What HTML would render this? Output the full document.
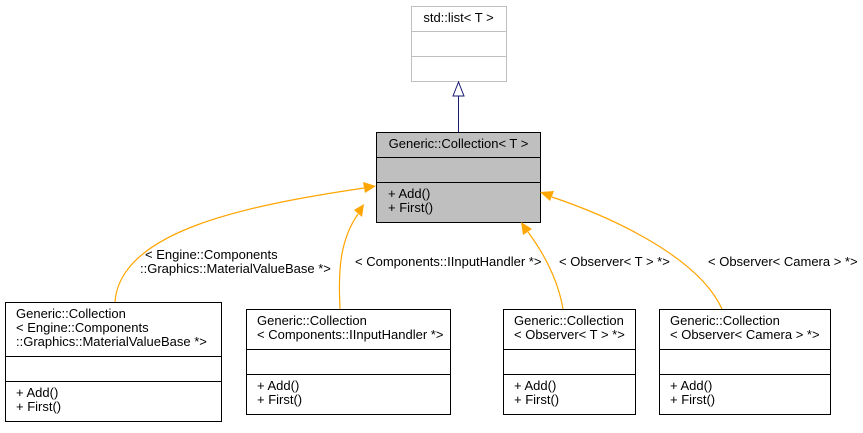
<!DOCTYPE html>
<html><head><style>
body{margin:0;background:#fff;width:863px;height:428px;overflow:hidden;font-family:"Liberation Sans",Arial,sans-serif;}
svg text{font-family:"Liberation Sans",Arial,sans-serif;font-size:13px;fill:#000;}
</style></head><body>
<svg width="863" height="428" xmlns="http://www.w3.org/2000/svg">
<g fill="none" stroke="#bfbfbf" stroke-width="1">
<rect x="411.5" y="6.5" width="95" height="75" fill="#fff"/>
<line x1="411.5" y1="31.5" x2="506.5" y2="31.5"/>
<line x1="411.5" y1="56.5" x2="506.5" y2="56.5"/>
</g>
<text x="458.5" y="22" text-anchor="middle">std::list&lt; T &gt;</text>
<line x1="458.5" y1="132" x2="458.5" y2="96" stroke="#191970"/>
<polygon points="458.5,82 453,96 464,96" fill="#fff" stroke="#191970"/>
<rect x="376.5" y="132.5" width="164" height="90" fill="#bfbfbf" stroke="#000"/>
<line x1="376.5" y1="157.5" x2="540.5" y2="157.5" stroke="#000"/>
<line x1="376.5" y1="182.5" x2="540.5" y2="182.5" stroke="#000"/>
<text x="458.5" y="148" text-anchor="middle">Generic::Collection&lt; T &gt;</text>
<text x="388" y="198">+ Add()</text><text x="388" y="212">+ First()</text>
<g fill="none" stroke="orange" stroke-width="1.2">
<path d="M115,302 C120,230 250,205 364,188"/>
<path d="M340,309 C338,270 340,240 358,214"/>
<path d="M563,309 C558,280 545,255 528,232"/>
<path d="M722,309 C700,260 620,220 552,197"/>
</g>
<g fill="orange">
<polygon points="376,186 363,182 365,193"/>
<polygon points="364,204 354,210 362,217"/>
<polygon points="521,222 523,235 532,229"/>
<polygon points="540,192 550,201 554,191"/>
</g>
<text x="145" y="259">&lt; Engine::Components</text>
<text x="140" y="273">::Graphics::MaterialValueBase *&gt;</text>
<text x="355" y="266">&lt; Components::IInputHandler *&gt;</text>
<text x="559" y="266">&lt; Observer&lt; T &gt; *&gt;</text>
<text x="708" y="266">&lt; Observer&lt; Camera &gt; *&gt;</text>
<g fill="#fff" stroke="#000">
<rect x="5.5" y="302.5" width="216" height="119"/>
<rect x="246.5" y="309.5" width="204" height="105"/>
<rect x="503.5" y="309.5" width="132" height="105"/>
<rect x="659.5" y="309.5" width="171" height="105"/>
</g>
<g stroke="#000">
<line x1="5" y1="356.5" x2="222" y2="356.5"/><line x1="5" y1="381.5" x2="222" y2="381.5"/>
<line x1="246" y1="349.5" x2="451" y2="349.5"/><line x1="246" y1="374.5" x2="451" y2="374.5"/>
<line x1="503" y1="349.5" x2="636" y2="349.5"/><line x1="503" y1="374.5" x2="636" y2="374.5"/>
<line x1="659" y1="349.5" x2="831" y2="349.5"/><line x1="659" y1="374.5" x2="831" y2="374.5"/>
</g>
<text x="16" y="318">Generic::Collection</text>
<text x="16" y="332">&lt; Engine::Components</text>
<text x="16" y="346">::Graphics::MaterialValueBase *&gt;</text>
<text x="16" y="397">+ Add()</text><text x="16" y="411">+ First()</text>
<text x="257" y="325">Generic::Collection</text>
<text x="257" y="339">&lt; Components::IInputHandler *&gt;</text>
<text x="257" y="390">+ Add()</text><text x="257" y="404">+ First()</text>
<text x="514" y="325">Generic::Collection</text>
<text x="514" y="339">&lt; Observer&lt; T &gt; *&gt;</text>
<text x="514" y="390">+ Add()</text><text x="514" y="404">+ First()</text>
<text x="670" y="325">Generic::Collection</text>
<text x="670" y="339">&lt; Observer&lt; Camera &gt; *&gt;</text>
<text x="670" y="390">+ Add()</text><text x="670" y="404">+ First()</text>
</svg>
</body></html>
